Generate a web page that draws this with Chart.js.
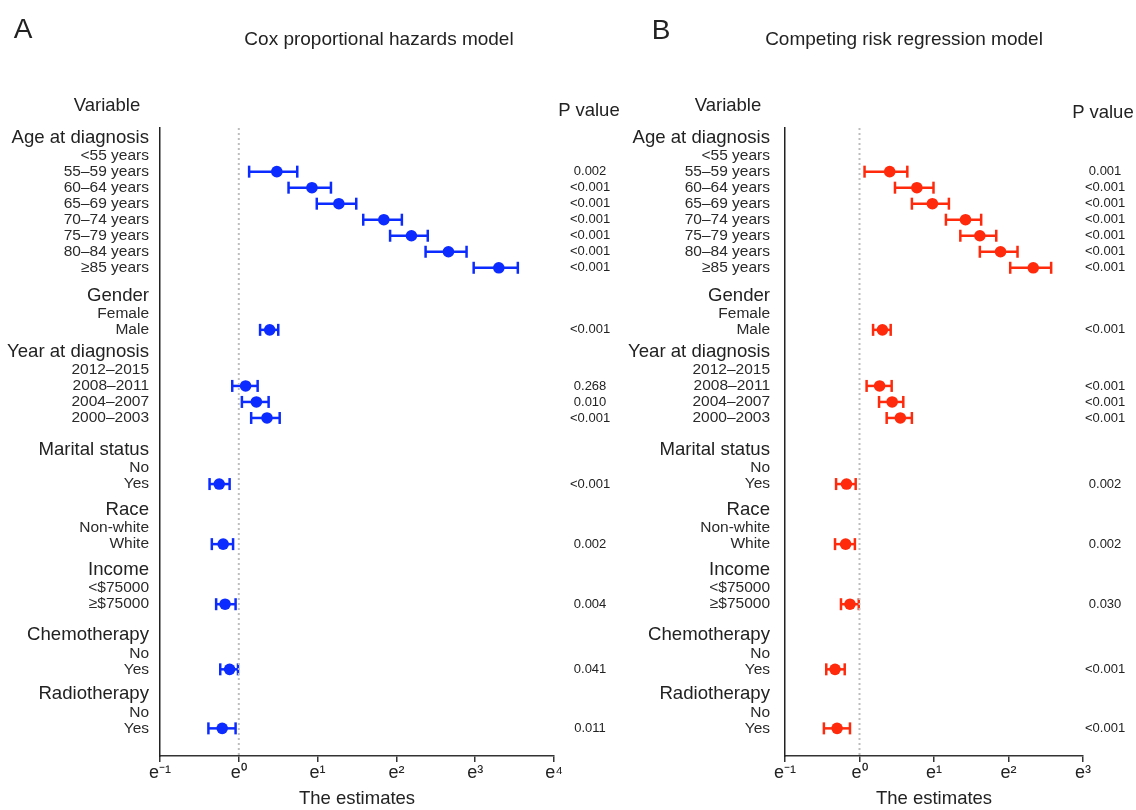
<!DOCTYPE html>
<html>
<head>
<meta charset="utf-8">
<script src="https://cdn.jsdelivr.net/npm/chart.js@4.4.0/dist/chart.umd.min.js"></script>
<style>
body{margin:0;background:#fff;font-family:"Liberation Sans",Arial,Helvetica,sans-serif;color:#222}
#wrap{position:relative;width:1136px;height:810px;overflow:hidden}
canvas{position:absolute;top:0}
.t{position:absolute;transform:translate(-50%,-50%);white-space:nowrap;font-size:18.5px}
</style>
</head>
<body>
<div id="wrap">
<canvas id="chartA" width="620" height="810" style="left:0"></canvas>
<canvas id="chartB" width="516" height="810" style="left:620px"></canvas>
<div class="t" style="left:23px;top:29px;font-size:28px">A</div>
<div class="t" style="left:379px;top:39px;font-size:19px">Cox proportional hazards model</div>
<div class="t" style="left:107px;top:105px">Variable</div>
<div class="t" style="left:589px;top:110px">P value</div>
<div class="t" style="left:661px;top:30px;font-size:28px">B</div>
<div class="t" style="left:904px;top:39px;font-size:19px">Competing risk regression model</div>
<div class="t" style="left:728px;top:105px">Variable</div>
<div class="t" style="left:1103px;top:112px">P value</div>
</div>
<script>
// variables and their levels (first level = reference)
const groups = ['Age at diagnosis', 'Gender', 'Year at diagnosis', 'Marital status', 'Race', 'Income', 'Chemotherapy', 'Radiotherapy'];
const levels = [
  ['<55 years', '55–59 years', '60–64 years', '65–69 years', '70–74 years', '75–79 years', '80–84 years', '≥85 years'],
  ['Female', 'Male'],
  ['2012–2015', '2008–2011', '2004–2007', '2000–2003'],
  ['No', 'Yes'],
  ['Non-white', 'White'],
  ['<$75000', '≥$75000'],
  ['No', 'Yes'],
  ['No', 'Yes']
];

// Cox model, estimates for the non-reference levels in order
const coxHR   = [1.62, 2.53, 3.56, 6.30, 8.94, 14.3, 27.1, 1.48, 1.09, 1.25, 1.43, 0.78, 0.82, 0.84, 0.89, 0.81];
const coxLow  = [1.14, 1.88, 2.69, 4.85, 6.82, 10.7, 19.7, 1.31, 0.92, 1.04, 1.17, 0.69, 0.71, 0.75, 0.79, 0.68];
const coxHigh = [2.10, 3.22, 4.44, 7.92, 11.0, 18.0, 34.5, 1.65, 1.27, 1.46, 1.68, 0.89, 0.93, 0.96, 0.99, 0.96];
const coxP    = ['0.002', '<0.001', '<0.001', '<0.001', '<0.001', '<0.001', '<0.001', '<0.001', '0.268', '0.010', '<0.001', '<0.001', '0.002', '0.004', '0.041', '0.011'];

// competing risk model
const crrHR   = [1.50, 2.16, 2.66, 4.15, 5.03, 6.64, 10.3, 1.36, 1.31, 1.55, 1.73, 0.84, 0.83, 0.88, 0.72, 0.74];
const crrLow  = [1.07, 1.61, 2.02, 3.19, 3.87, 5.03, 7.56, 1.20, 1.10, 1.30, 1.44, 0.73, 0.72, 0.78, 0.64, 0.62];
const crrHigh = [1.90, 2.70, 3.32, 5.12, 6.27, 8.34, 13.1, 1.52, 1.54, 1.80, 2.02, 0.95, 0.94, 0.99, 0.82, 0.88];
const crrP    = ['0.001', '<0.001', '<0.001', '<0.001', '<0.001', '<0.001', '<0.001', '<0.001', '<0.001', '<0.001', '<0.001', '0.002', '0.002', '0.030', '<0.001', '<0.001'];

const expTicksA = [-1, 0, 1, 2, 3, 4];
const expTicksB = [-1, 0, 1, 2, 3];

const FONT = '"Liberation Sans", Arial, Helvetica, sans-serif';
const sup = {'-': '⁻', '0': '⁰', '1': '¹', '2': '²', '3': '³', '4': '⁴'};

// row positions on the y axis (one unit per level, wider gap before each variable)
const gapBefore = [0, 1.75, 1.375, 2.0, 1.625, 1.625, 1.94, 1.56];
let rows = [];
let pos = 0, k = 0;
groups.forEach((g, gi) => {
  pos += gapBefore[gi];
  rows.push({label: g, head: true, y: pos, k: null});
  pos += 1.125;
  levels[gi].forEach((lv, li) => {
    if (li > 0) pos += 1;
    rows.push({label: lv, head: false, y: pos, k: li > 0 ? k++ : null});
  });
});
const est = rows.filter(r => r.k !== null);
const yMin = -0.6, yMax = 38.6;

function drow(id, hr, lo, hi, p, color, expTicks, sz) {
  let ds = [];
  ds.push({
    type: 'line', data: [{x: 1, y: yMin}, {x: 1, y: yMax}],
    borderColor: '#bdbdbd', borderWidth: 2, borderDash: [2, 3], pointRadius: 0
  });
  est.forEach(r => {
    ds.push({
      type: 'line', data: [{x: lo[r.k], y: r.y}, {x: hi[r.k], y: r.y}],
      borderColor: color, borderWidth: 2.5,
      pointStyle: 'line', pointRotation: 90, pointRadius: 6,
      pointBorderColor: color, pointBorderWidth: 2.5
    });
  });
  ds.push({
    type: 'scatter', data: est.map(r => ({x: hr[r.k], y: r.y})),
    backgroundColor: color, borderWidth: 0, pointRadius: 5.8
  });

  new Chart(document.getElementById(id), {
    type: 'scatter',
    data: {datasets: ds},
    options: {
      responsive: false, animation: false,
      layout: {padding: {top: 128, left: 0, right: 0, bottom: 0}},
      plugins: {legend: {display: false}, tooltip: {enabled: false}},
      scales: {
        x: {
          type: 'logarithmic', min: Math.exp(expTicks[0]), max: Math.exp(expTicks[expTicks.length - 1]),
          afterBuildTicks: a => { a.ticks = expTicks.map(n => ({value: Math.exp(n)})); },
          afterFit: a => { a.height = 54; },
          grid: {drawOnChartArea: false, drawTicks: true, tickLength: 6, color: '#333', lineWidth: 1.5},
          border: {display: true, color: '#333', width: 1.5},
          ticks: {
            padding: 0, color: '#222', font: {family: FONT, size: 18}, maxRotation: 0,
            callback: v => 'e' + String(Math.round(Math.log(v))).split('').map(c => sup[c]).join('')
          },
          title: {display: true, text: 'The estimates', color: '#222', font: {family: FONT, size: 18.5}, padding: 0}
        },
        y: {
          type: 'linear', position: 'left', reverse: true, min: yMin, max: yMax,
          afterBuildTicks: a => { a.ticks = rows.map(r => ({value: r.y})); },
          afterFit: a => { a.width = sz.left; },
          grid: {drawOnChartArea: false, drawTicks: false},
          border: {display: true, color: '#222', width: 1.5},
          ticks: {
            autoSkip: false, padding: sz.labelPad,
            callback: (v, i) => rows[i] ? rows[i].label : '',
            color: c => (rows[c.index] && rows[c.index].head) ? '#222' : '#2a2a2a',
            font: c => ({family: FONT, size: (rows[c.index] && rows[c.index].head) ? 18.6 : 15.5})
          }
        },
        yP: {
          type: 'linear', position: 'right', reverse: true, min: yMin, max: yMax,
          afterBuildTicks: a => { a.ticks = est.map(r => ({value: r.y})); },
          afterFit: a => { a.width = sz.right; },
          grid: {display: false, drawTicks: false},
          border: {display: false},
          ticks: {
            autoSkip: false, padding: sz.pPad, crossAlign: 'center',
            callback: (v, i) => est[i] ? p[est[i].k] : '',
            color: '#222', font: {family: FONT, size: 13}
          }
        }
      }
    }
  });
}

drow('chartA', coxHR, coxLow, coxHigh, coxP, '#0b2bff', expTicksA, {left: 160, right: 66, labelPad: 11, pPad: 16});
drow('chartB', crrHR, crrLow, crrHigh, crrP, '#ff2a0c', expTicksB, {left: 165, right: 53, labelPad: 15, pPad: 2});
</script>
</body>
</html>
